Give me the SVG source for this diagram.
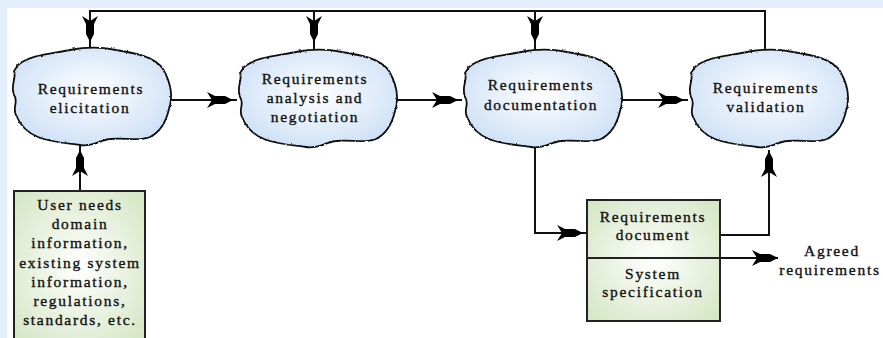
<svg xmlns="http://www.w3.org/2000/svg" xmlns:xlink="http://www.w3.org/1999/xlink" width="883" height="338" viewBox="0 0 883 338">
<style>
.cloud{stroke:#111;stroke-width:1.8;fill:url(#gBlue);filter:url(#rough)}
.box{stroke:#222;stroke-width:2;fill:url(#gGreen)}
.ln{fill:none;stroke:#111;stroke-width:2}
.t{font-family:"Liberation Serif","DejaVu Serif",serif;font-size:15.5px;fill:#111;stroke:#111;stroke-width:0.35;text-anchor:middle;letter-spacing:1.7px}
.ah{fill:#000}
</style>
<defs>
<radialGradient id="gBlue" cx="50%" cy="45%" r="60%">
<stop offset="0" stop-color="#ffffff"/>
<stop offset="1" stop-color="#cde0f6"/>
</radialGradient>
<radialGradient id="gGreen" cx="50%" cy="50%" r="65%">
<stop offset="0" stop-color="#ffffff"/>
<stop offset="1" stop-color="#d6e7c6"/>
</radialGradient>
<filter id="rough" x="-5%" y="-5%" width="110%" height="110%">
<feTurbulence type="fractalNoise" baseFrequency="0.35" numOctaves="1" seed="3"/>
<feDisplacementMap in="SourceGraphic" scale="2.5" xChannelSelector="R" yChannelSelector="G"/>
</filter>
<path id="ah" d="M0,0 L-8,-4 L-18,-4 L-26,-8 L-21,0 L-26,8 L-18,4 L-8,4 Z"/>
<path id="cl" d="M8,18 C20,8 40,7 60,3 C75,0 92,0 106,3 C126,6 145,10 153,22 C161,36 163,50 159,62 C156,75 150,85 140,90 C128,95 115,90 100,92 C90,93 82,100 70,98 C55,96 40,95 28,90 C18,86 10,78 6,68 C2,60 9,55 4,48 C0,38 7,30 4,24 Z"/>
</defs>
<rect x="0" y="0" width="883" height="338" fill="#e3eefb"/>
<rect x="7" y="8" width="876" height="330" fill="#ffffff"/>

<g id="connectors">
<path class="ln" d="M90,48 V11 H765 V50"/>
<path class="ln" d="M314,11 V50"/>
<path class="ln" d="M535,11 V50"/>
<path class="ln" d="M170,100 H237"/>
<path class="ln" d="M396,100 H462"/>
<path class="ln" d="M622,100 H688"/>
<path class="ln" d="M80,191 V146"/>
<path class="ln" d="M535,146 V233 H587"/>
<path class="ln" d="M720,235 H769 V150"/>
<path class="ln" d="M718,258 H778"/>
<use href="#ah" class="ah" transform="translate(90,42) rotate(90)"/>
<use href="#ah" class="ah" transform="translate(314,42) rotate(90)"/>
<use href="#ah" class="ah" transform="translate(535,42) rotate(90)"/>
<use href="#ah" class="ah" transform="translate(233,100)"/>
<use href="#ah" class="ah" transform="translate(458,100)"/>
<use href="#ah" class="ah" transform="translate(684,100)"/>
<use href="#ah" class="ah" transform="translate(80,150) rotate(-90)"/>
<use href="#ah" class="ah" transform="translate(583,233)"/>
<use href="#ah" class="ah" transform="translate(769,151) rotate(-90)"/>
<use href="#ah" class="ah" transform="translate(778,258)"/>
</g>

<g id="n-elicitation">
<use href="#cl" class="cloud" transform="translate(10,47)"/>
<text class="t" x="91" y="94">Requirements</text>
<text class="t" x="90" y="113">elicitation</text>
</g>
<g id="n-analysis">
<use href="#cl" class="cloud" transform="translate(236,49)"/>
<text class="t" x="315" y="84">Requirements</text>
<text class="t" x="315" y="103">analysis and</text>
<text class="t" x="315" y="122">negotiation</text>
</g>
<g id="n-documentation">
<use href="#cl" class="cloud" transform="translate(461,49)"/>
<text class="t" x="541" y="90">Requirements</text>
<text class="t" x="541" y="110">documentation</text>
</g>
<g id="n-validation">
<use href="#cl" class="cloud" transform="translate(687,49)"/>
<text class="t" x="766" y="93">Requirements</text>
<text class="t" x="766" y="112">validation</text>
</g>

<g id="n-inputs">
<rect class="box" x="14" y="191" width="131" height="152"/>
<text class="t" x="80" y="210">User needs</text>
<text class="t" x="80" y="229">domain</text>
<text class="t" x="80" y="248">information,</text>
<text class="t" x="80" y="268">existing system</text>
<text class="t" x="80" y="287">information,</text>
<text class="t" x="80" y="306">regulations,</text>
<text class="t" x="80" y="325">standards, etc.</text>
</g>

<g id="n-reqdoc">
<rect class="box" x="587" y="200" width="133" height="121"/>
<line x1="587" y1="258" x2="720" y2="258" stroke="#222" stroke-width="2"/>
<text class="t" x="653" y="222">Requirements</text>
<text class="t" x="653" y="240">document</text>
<text class="t" x="653" y="279">System</text>
<text class="t" x="653" y="297">specification</text>
</g>

<g id="n-agreed">
<text class="t" x="832" y="256">Agreed</text>
<text class="t" x="830" y="275">requirements</text>
</g>
</svg>
